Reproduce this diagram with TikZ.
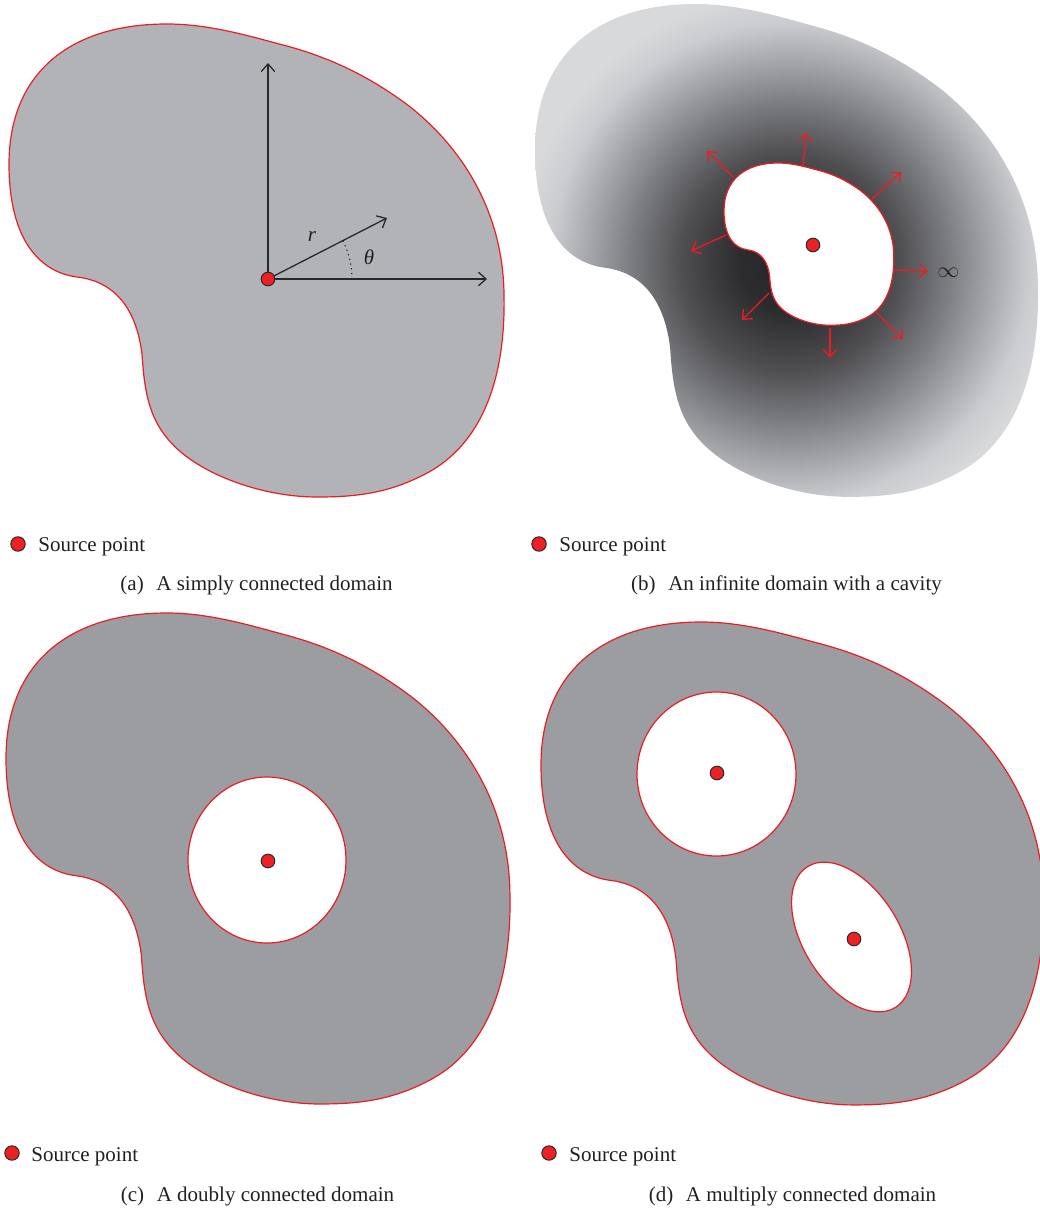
\documentclass[tikz,border=0pt]{standalone}
\usepackage{fontspec}
\setmainfont{Liberation Serif}
\usetikzlibrary{arrows.meta}
\definecolor{redline}{RGB}{237,28,36}
\definecolor{dotred}{RGB}{237,32,36}
\definecolor{dotedge}{RGB}{45,42,43}
\definecolor{axisgray}{RGB}{40,40,42}
\definecolor{txt}{RGB}{35,31,32}
\definecolor{afill}{RGB}{178,179,183}
\definecolor{cfill}{RGB}{156,157,161}
\definecolor{shA}{RGB}{38,38,40}
\definecolor{shB}{RGB}{44,44,46}
\definecolor{shC}{RGB}{80,80,83}
\definecolor{shD}{RGB}{125,126,130}
\definecolor{shE}{RGB}{164,165,169}
\definecolor{shF}{RGB}{203,204,207}
\definecolor{shG}{RGB}{216,217,219}
\pgfdeclareradialshading{cavshade}{\pgfpoint{0bp}{0bp}}{color(0bp)=(shA); color(3.7bp)=(shB); color(8.1bp)=(shC); color(11.8bp)=(shD); color(14.7bp)=(shE); color(17.6bp)=(shF); color(19.9bp)=(shG); color(25bp)=(shG); color(50bp)=(shG)}
\def\kidney{(0,140) .. controls (0,50) and (60,0) .. (158,0) .. controls (200,0) and (240,12) .. (274,21) .. controls (320,33) and (360,52) .. (400,82) .. controls (455,125) and (494,190) .. (495,270) .. controls (497,360) and (470,420) .. (420,448) .. controls (380,470) and (345,473) .. (308,473) .. controls (250,473) and (185,448) .. (158,414) .. controls (138,390) and (135,360) .. (133,330) .. controls (128,290) and (110,258) .. (68,253) .. controls (30,248) and (0,215) .. (0,140) -- cycle}
\tikzset{
  redln/.style={draw=redline, line width=0.6pt},
  srcdot/.style={circle, fill=dotred, draw=dotedge, line width=0.5pt, inner sep=0pt, minimum size=6.8pt},
  legdot/.style={srcdot, minimum size=7.2pt},
  axisarrow/.style={draw=axisgray, line width=0.65pt, -{Straight Barb[length=3.8pt,width=6.8pt]}},
  outarrow/.style={draw=redline, line width=0.65pt, -{Straight Barb[length=3.8pt,width=6.8pt]}},
  legtext/.style={anchor=base west, inner sep=0pt, text=txt, font=\fontsize{10.5}{12}\selectfont},
  captext/.style={anchor=base, inner sep=0pt, text=txt, font=\fontsize{10.5}{12}\selectfont},
  symtext/.style={inner sep=0pt, text=txt, font=\fontsize{10.5}{12}\selectfont}
}
\begin{document}
\begin{tikzpicture}[x=0.5pt,y=-0.5pt]
\useasboundingbox (0,0) rectangle (1039,1209);

% ---------------- (a) ----------------
\filldraw[fill=afill, redln, shift={(9,24)}] \kidney;
\coordinate (oa) at (268,279);
\coordinate (ya) at (268,63);
\coordinate (xa) at (487,279);
\coordinate (ra) at (387,218);
\draw[axisarrow] (oa) -- (ya);
\draw[axisarrow] (oa) -- (xa);
\draw[axisarrow] (oa) -- (ra);
\draw[axisgray, line width=0.6pt, dash pattern=on 0.6pt off 1.8pt] (352,279) arc[start angle=0, end angle=-27, radius=84];
\node[srcdot] (sa) at (oa) {};
\node[symtext] (rlab) at (312,237) {\textit{r}};
\node[symtext] (tlab) at (369,257) {\textit{θ}};
\node[legdot] (la) at (18,544) {};
\node[legtext] (lta) at (38,551) {Source point};
\node[captext] (capa) at (256.5,590) {(a)\hspace{0.6em}A simply connected domain};

% ---------------- (b) ----------------
\begin{scope}
  \clip[shift={(535,4)}, xscale=1.016, yscale=1.042] \kidney;
  \shade[shading=cavshade] (790,262) circle [radius=340];
\end{scope}
\filldraw[fill=white, redln, shift={(724,163)}, scale=0.343] \kidney;
\node[srcdot] (sb) at (813,245) {};
\coordinate (b1s) at (733,177); \coordinate (b1e) at (707,151);
\coordinate (b2s) at (803,166); \coordinate (b2e) at (806,133);
\coordinate (b3s) at (872,199); \coordinate (b3e) at (901,172);
\coordinate (b4s) at (894,270); \coordinate (b4e) at (928,271);
\coordinate (b5s) at (876,312); \coordinate (b5e) at (903,339);
\coordinate (b6s) at (830,328); \coordinate (b6e) at (830,358);
\coordinate (b7s) at (769,293); \coordinate (b7e) at (742,320);
\coordinate (b8s) at (726,235); \coordinate (b8e) at (691,251);
\foreach \i in {1,...,8} {\draw[outarrow] (b\i s) -- (b\i e);}
\node[symtext, anchor=west] (inf) at (937,273) {$\infty$};
\node[legdot] (lb) at (539,544) {};
\node[legtext] (ltb) at (559,551) {Source point};
\node[captext] (capb) at (786.5,590) {(b)\hspace{0.6em}An infinite domain with a cavity};

% ---------------- (c) ----------------
\filldraw[fill=cfill, redln, shift={(6,613)}, xscale=1.018, yscale=1.038] \kidney;
\filldraw[fill=white, redln] (267,860) ellipse [x radius=79, y radius=83];
\node[srcdot] (sc) at (268,861) {};
\node[legdot] (lc) at (12,1153) {};
\node[legtext] (ltc) at (31,1161) {Source point};
\node[captext] (capc) at (257.5,1201) {(c)\hspace{0.6em}A doubly connected domain};

% ---------------- (d) ----------------
\filldraw[fill=cfill, redln, shift={(541,622)}, xscale=1.015, yscale=1.021] \kidney;
\filldraw[fill=white, redln] (716.5,774) ellipse [x radius=79.5, y radius=82];
\filldraw[fill=white, redln, rotate around={-58:(851.5,937)}] (851.5,937) ellipse [x radius=83, y radius=48];
\node[srcdot] (sd1) at (717,773) {};
\node[srcdot] (sd2) at (854,939) {};
\node[legdot] (ld) at (549,1153) {};
\node[legtext] (ltd) at (569,1161) {Source point};
\node[captext] (capd) at (792.5,1201) {(d)\hspace{0.6em}A multiply connected domain};
\end{tikzpicture}
\end{document}
